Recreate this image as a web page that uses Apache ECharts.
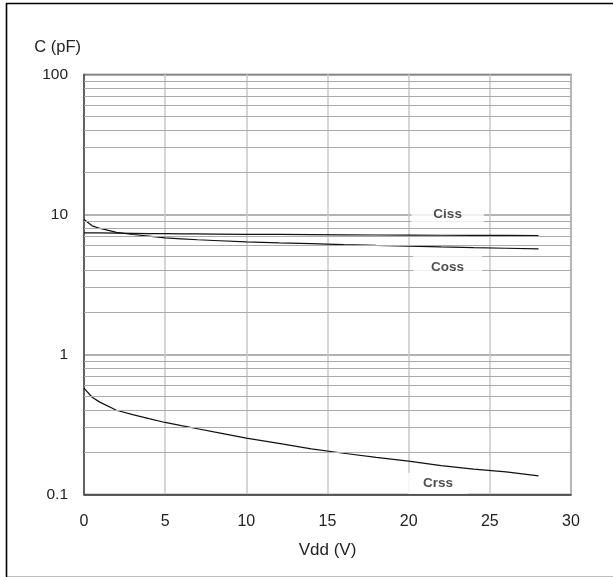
<!DOCTYPE html>
<html>
<head>
<meta charset="utf-8">
<script src="https://cdn.jsdelivr.net/npm/echarts@6/dist/echarts.min.js"></script>
<style>
html,body{margin:0;padding:0;background:#fff;}
#c{width:613px;height:577px;}
</style>
</head>
<body>
<div id="c"></div>
<script>
// ---- data ----
const vdd  = [0, 0.5, 1, 2, 3, 4, 5, 6, 7, 8, 10, 12, 14, 16, 18, 20, 22, 24, 26, 28];
const ciss = [7.4, 7.39, 7.38, 7.35, 7.33, 7.31, 7.3, 7.28, 7.27, 7.25, 7.22, 7.2, 7.18, 7.16, 7.14, 7.12, 7.11, 7.1, 7.09, 7.08];
const coss = [9.2, 8.3, 7.95, 7.45, 7.2, 7.0, 6.8, 6.7, 6.6, 6.52, 6.38, 6.28, 6.2, 6.1, 6.02, 5.95, 5.87, 5.8, 5.74, 5.68];
const crss = [0.575, 0.495, 0.455, 0.40, 0.372, 0.348, 0.327, 0.31, 0.295, 0.28, 0.253, 0.232, 0.212, 0.197, 0.184, 0.173, 0.161, 0.152, 0.145, 0.136];
const seriesNames = ['Ciss', 'Coss', 'Crss'];
const xTicks = [0, 5, 10, 15, 20, 25, 30];
const yTicks = [0.1, 1, 10, 100];
const minorY = [0.2,0.3,0.4,0.5,0.6,0.7,0.8,0.9, 2,3,4,5,6,7,8,9, 20,30,40,50,60,70,80,90];

const pair = arr => vdd.map((v, i) => [v, arr[i]]);
const FONT = '"Liberation Sans", Arial, sans-serif';

const chart = echarts.init(document.getElementById('c'), null, {renderer: 'canvas'});
const lineSeries = (name, arr) => ({
  name, type: 'line', data: pair(arr), showSymbol: false, symbol: 'none',
  lineStyle: {color: '#111', width: 1.2}, z: 4, silent: true
});
chart.setOption({
  animation: false,
  graphic: [{
    type: 'rect', left: 4, top: 1, shape: {width: 612, height: 574},
    style: {fill: 'none', stroke: '#000', lineWidth: 1.6}, silent: true
  }],
  grid: {left: 84, right: 42, top: 74.5, bottom: 82.5, show: true, borderColor: '#555', borderWidth: 1.5, backgroundColor: 'transparent'},
  xAxis: {
    type: 'value', min: xTicks[0], max: xTicks[xTicks.length - 1], interval: 5,
    name: 'Vdd (V)', nameLocation: 'middle', nameGap: 47,
    nameTextStyle: {fontFamily: FONT, fontSize: 17, color: '#222'},
    axisLine: {show: true, lineStyle: {color: '#444', width: 1.5}},
    axisTick: {show: false},
    axisLabel: {margin: 19, fontFamily: FONT, fontSize: 16, color: '#222',
      formatter: v => xTicks.includes(v) ? String(v) : ''},
    splitLine: {show: true, lineStyle: {color: '#c8c8c8', width: 1.5}}
  },
  yAxis: {
    type: 'log', logBase: 10, min: yTicks[0], max: yTicks[yTicks.length - 1],
    name: 'C (pF)', nameLocation: 'end', nameGap: 19,
    nameTextStyle: {fontFamily: FONT, fontSize: 16.5, color: '#222', align: 'right', padding: [0, 3, 0, 0]},
    axisLine: {show: true, lineStyle: {color: '#444', width: 1.5}},
    axisTick: {show: false},
    axisLabel: {margin: 16, fontFamily: FONT, fontSize: 15.5, color: '#222',
      formatter: v => String(+v.toPrecision(3))},
    splitLine: {show: true, lineStyle: {color: '#999', width: 1.6}}
  },
  series: [
    {
      name: 'minor', type: 'line', data: [], silent: true, z: 1,
      markLine: {
        silent: true, symbol: 'none', label: {show: false},
        lineStyle: {color: '#aaa', width: 1, type: 'solid'},
        data: minorY.map(v => ({yAxis: v}))
      }
    },
    lineSeries(seriesNames[0], ciss),
    lineSeries(seriesNames[1], coss),
    lineSeries(seriesNames[2], crss),
    {
      name: 'labels', type: 'scatter', symbolSize: 1, itemStyle: {color: 'rgba(0,0,0,0)'}, z: 5, silent: true,
      data: [
        {value: [22.4, 10], name: seriesNames[0], label: {padding: [2, 22, 1, 22]}},
        {value: [22.4, 4.2], name: seriesNames[1], label: {padding: [5, 18, 5, 18]}},
        {value: [21.8, 0.12], name: seriesNames[2], label: {padding: [4, 15, 3, 15]}}
      ],
      label: {show: true, position: 'inside', formatter: p => p.name,
        fontFamily: FONT, fontSize: 13.5, fontWeight: 'bold', color: '#222', backgroundColor: '#fff'}
    }
  ]
});
</script>
</body>
</html>
